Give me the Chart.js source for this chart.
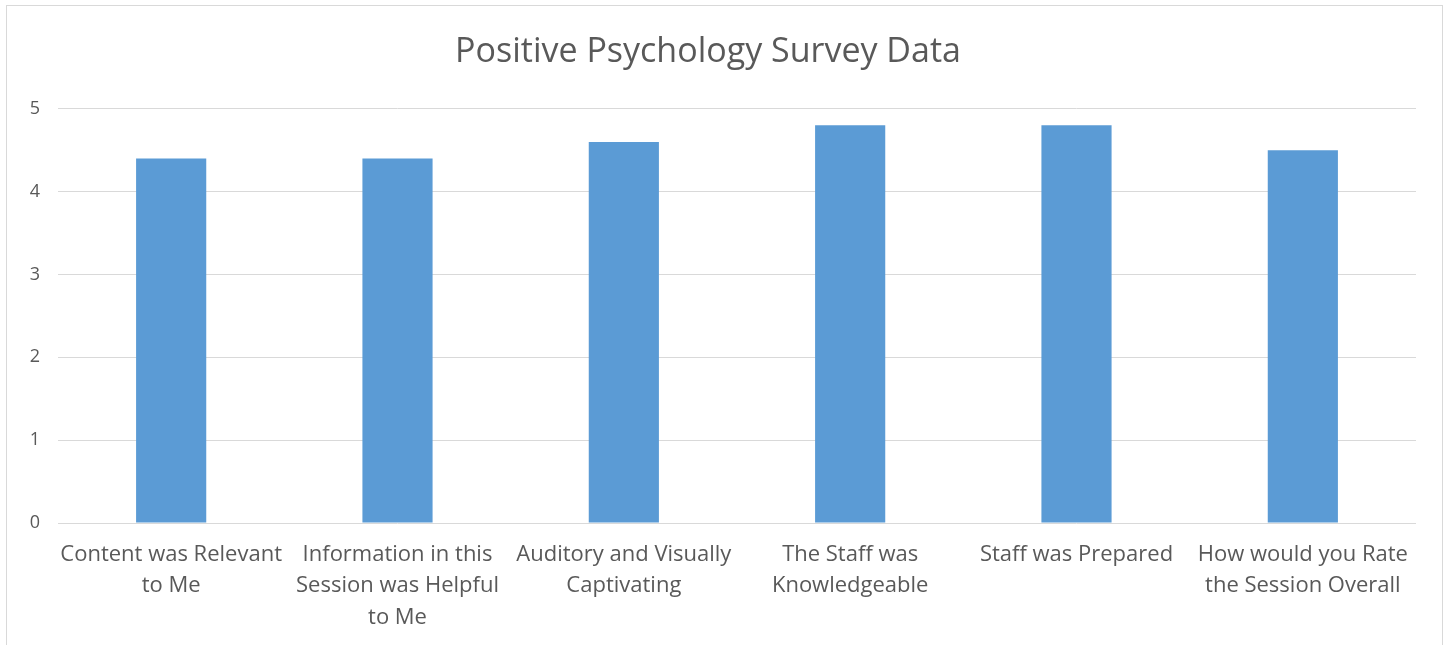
<!DOCTYPE html>
<html><head><meta charset="utf-8">
<script src="https://cdn.jsdelivr.net/npm/chart.js@4.4.0/dist/chart.umd.min.js"></script>
<style>
html,body{margin:0;padding:0;background:#fff;}
#frame{position:absolute;left:6px;top:5px;width:1437px;height:650px;border:1px solid #d9d9d9;box-sizing:border-box;}
#wrap{position:absolute;left:0;top:0;width:1451px;height:645px;}
</style></head>
<body>
<div id="frame"></div>
<div id="wrap"><canvas id="c" width="1451" height="645"></canvas></div>
<script>
const categories = [
  ["Content was Relevant","to Me"],
  ["Information in this","Session was Helpful","to Me"],
  ["Auditory and Visually","Captivating"],
  ["The Staff was","Knowledgeable"],
  ["Staff was Prepared"],
  ["How would you Rate","the Session Overall"]
];
const scores = [4.4, 4.4, 4.6, 4.8, 4.8, 4.5];
const yTicks = [0,1,2,3,4,5];
const titleText = "Positive Psychology Survey Data";

new Chart(document.getElementById('c'), {
  type: 'bar',
  data: { labels: categories, datasets: [{ data: scores, backgroundColor: '#5b9bd5', barPercentage: 0.31, categoryPercentage: 1 }] },
  options: {
    responsive: false, animation: false,
    layout: { padding: { left: 0, right: 35, top: 22, bottom: 0 } },
    plugins: {
      legend: { display: false }, tooltip: { enabled: false },
      title: { display: true, text: titleText, color: '#595959', font: { family: 'Open Sans', size: 34, weight: 'normal', lineHeight: 1.2 }, padding: { top: 10, bottom: 36 } }
    },
    scales: {
      x: {
        afterFit: s => { s.height = 122; },
        grid: { display: false, drawTicks: false },
        border: { display: false },
        ticks: { color: '#595959', font: { family: 'Open Sans', size: 22, lineHeight: 1.43 }, padding: 16, maxRotation: 0, autoSkip: false },
      },
      y: {
        min: 0, max: 5,
        afterFit: s => { s.width = 58; },
        afterBuildTicks: s => { s.ticks = yTicks.map(v => ({ value: v })); },
        grid: { color: '#d9d9d9', drawTicks: false },
        border: { display: false },
        ticks: { color: '#595959', font: { family: 'Open Sans', size: 18 }, padding: 18 }
      }
    }
  }
});
</script>
</body></html>
